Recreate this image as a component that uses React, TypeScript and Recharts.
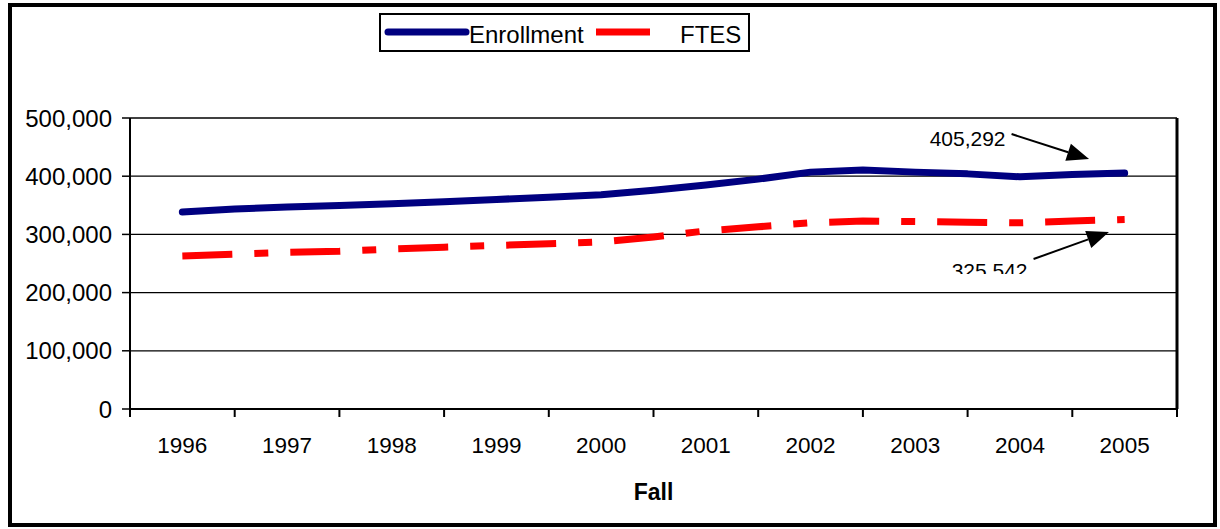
import React from 'react';
import {
  LineChart,
  Line,
  XAxis,
  YAxis,
  CartesianGrid,
  Legend,
  ReferenceLine,
} from 'recharts';

const terms = [
  1996, 1996.5, 1997, 1997.5, 1998, 1998.5, 1999, 1999.5, 2000, 2000.5,
  2001, 2001.5, 2002, 2002.5, 2003, 2003.5, 2004, 2004.5, 2005,
];
const enrollment = [
  338500, 343500, 347000, 349500, 352500, 356000, 360000, 364000, 368000,
  376000, 385000, 395000, 407000, 410500, 407000, 404000, 399000, 403000,
  405292,
];
const ftes = [
  263000, 266000, 269000, 271000, 275000, 278000, 281000, 284000, 287000,
  295500, 306000, 313000, 320000, 323000, 322000, 321000, 320000, 323000,
  325542,
];
const years = ['1996', '1997', '1998', '1999', '2000', '2001', '2002', '2003', '2004', '2005'];
const yTicks = [0, 100000, 200000, 300000, 400000, 500000];
const bandEdges = [1995.5, 1996.5, 1997.5, 1998.5, 1999.5, 2000.5, 2001.5, 2002.5, 2003.5, 2004.5, 2005.5];

const data = terms.map((t, i) => ({ t, enrollment: enrollment[i], ftes: ftes[i] }));

const W = 1220;
const H = 529;
const MARGIN = { top: 118, right: 43, bottom: 60, left: 0 };
const Y_WIDTH = 130;
const PLOT_W = W - MARGIN.left - MARGIN.right - Y_WIDTH;
const BAND = PLOT_W / years.length;
const FONT = '"Liberation Sans", Arial, sans-serif';
const BLUE = '#000080';
const RED = '#FF0000';

const XTick = (props: any) => {
  const { x, y, payload } = props;
  const idx = bandEdges.indexOf(payload.value);
  if (idx < 0 || idx >= years.length) return <g />;
  return (
    <text x={x + BAND / 2} y={y + 34} textAnchor="middle" fontSize={22.5} fontFamily={FONT} fill="#000">
      {years[idx]}
    </text>
  );
};

const arrowShape = (label: string, clipBottom?: number) => (props: any) => {
  const { x1, y1, x2, y2 } = props;
  if (x1 == null) return <g />;
  const dx = x2 - x1;
  const dy = y2 - y1;
  const len = Math.sqrt(dx * dx + dy * dy);
  const ux = dx / len;
  const uy = dy / len;
  const bx = x2 - ux * 22;
  const by = y2 - uy * 22;
  const hw = 9;
  const head = `${x2},${y2} ${bx - uy * hw},${by + ux * hw} ${bx + uy * hw},${by - ux * hw}`;
  const clipId = `clip-${label.replace(',', '')}`;
  return (
    <g>
      {clipBottom != null && (
        <defs>
          <clipPath id={clipId}>
            <rect x={0} y={0} width={W} height={clipBottom} />
          </clipPath>
        </defs>
      )}
      <line x1={x1} y1={y1} x2={bx} y2={by} stroke="#000" strokeWidth={2} />
      <polygon points={head} fill="#000" />
      <text
        x={x1 - 6}
        y={dy < 0 ? y1 + 19 : y1 + 12}
        textAnchor="end"
        fontSize={21}
        fontFamily={FONT}
        fill="#000"
        clipPath={clipBottom != null ? `url(#${clipId})` : undefined}
      >
        {label}
      </text>
    </g>
  );
};

const LegendBox = () => (
  <div
    style={{
      position: 'absolute',
      left: 379,
      top: 13,
      width: 371,
      height: 39,
      border: '2px solid #000',
      boxSizing: 'border-box',
      background: '#fff',
    }}
  >
    <svg width={367} height={35} style={{ display: 'block' }}>
      <line x1={7} y1={17} x2={85} y2={17} stroke={BLUE} strokeWidth={7} strokeLinecap="round" />
      <text x={88} y={28} fontSize={24} fontFamily={FONT} fill="#000">Enrollment</text>
      <line x1={215} y1={17} x2={269} y2={17} stroke={RED} strokeWidth={7} />
      <text x={299} y={28} fontSize={24} fontFamily={FONT} fill="#000">FTES</text>
    </svg>
  </div>
);

const App = () => {
  return (
    <div style={{ position: 'absolute', left: 0, top: 0, width: W, height: H, background: '#fff' }}>
      <div
        style={{
          position: 'absolute',
          left: 8,
          top: 3,
          width: 1209,
          height: 524,
          border: '4px solid #000',
          boxSizing: 'border-box',
        }}
      />
      <LineChart width={W} height={H} data={data} margin={MARGIN}>
        <CartesianGrid vertical={false} stroke="#000" strokeWidth={1.3} />
        <XAxis
          type="number"
          dataKey="t"
          domain={[1995.5, 2005.5]}
          ticks={bandEdges}
          interval={0}
          height={60}
          axisLine={{ stroke: '#000', strokeWidth: 2 }}
          tickLine={{ stroke: '#000', strokeWidth: 2 }}
          tickSize={8}
          tick={<XTick />}
          label={{
            value: 'Fall',
            position: 'insideBottom',
            offset: -31,
            fontSize: 23,
            fontWeight: 'bold',
            fontFamily: FONT,
            fill: '#000',
          }}
        />
        <YAxis
          width={Y_WIDTH}
          domain={[0, 500000]}
          ticks={yTicks}
          interval={0}
          axisLine={{ stroke: '#000', strokeWidth: 2 }}
          tickLine={{ stroke: '#000', strokeWidth: 1.5 }}
          tickSize={8}
          tickMargin={10}
          tickFormatter={(v: number) => v.toLocaleString('en-US')}
          tick={{ fontSize: 24, fontFamily: FONT, fill: '#000' }}
        />
        <ReferenceLine x={2005.5} stroke="#000" strokeWidth={3} />
        <Line
          type="linear"
          dataKey="enrollment"
          stroke={BLUE}
          strokeWidth={7}
          strokeLinecap="round"
          strokeLinejoin="round"
          dot={false}
          isAnimationActive={false}
        />
        <Line
          type="linear"
          dataKey="ftes"
          stroke={RED}
          strokeWidth={7}
          strokeDasharray="50 22 14 22"
          dot={false}
          isAnimationActive={false}
        />
        <ReferenceLine
          segment={[
            { x: 2003.92, y: 472500 },
            { x: 2004.66, y: 429500 },
          ]}
          shape={arrowShape('405,292')}
          ifOverflow="visible"
        />
        <ReferenceLine
          segment={[
            { x: 2004.13, y: 257700 },
            { x: 2004.85, y: 304100 },
          ]}
          shape={arrowShape('325,542', 274)}
          ifOverflow="visible"
        />
        <Legend content={() => <LegendBox />} wrapperStyle={{ position: 'absolute', left: 0, top: 0, width: 0, height: 0 }} />
      </LineChart>
    </div>
  );
};

export default App;
